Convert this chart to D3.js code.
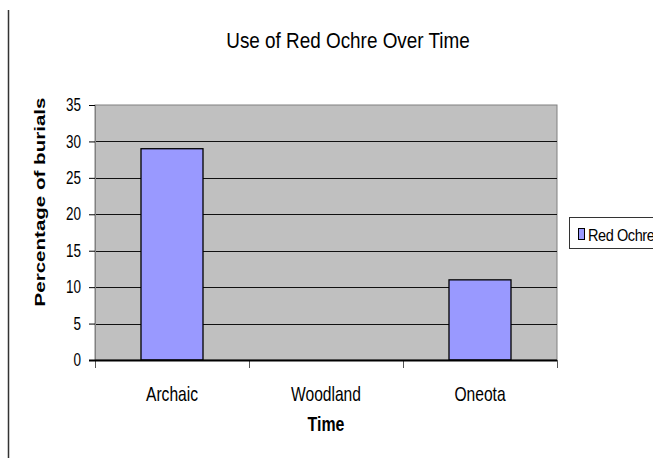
<!DOCTYPE html>
<html><head><meta charset="utf-8">
<script src="https://cdn.jsdelivr.net/npm/d3@7"></script>
<style>body{margin:0;background:#fff}svg{display:block}text{font-family:"Liberation Sans",Arial,sans-serif}</style>
</head><body>
<script>
const categories = ["Archaic", "Woodland", "Oneota"];
const seriesName = "Red Ochre";
const values = [29, 0, 11];
const yTicks = [0, 5, 10, 15, 20, 25, 30, 35];
const title = "Use of Red Ochre Over Time";
const xTitle = "Time";
const yTitle = "Percentage of burials";

const W = 653, H = 458;
const svg = d3.select("body").append("svg").attr("width", W).attr("height", H);
const m = {left: 95, right: 557, top: 105, bottom: 360};

// helper: stretched text
function stext(g, x, y, txt, size, sx, sy, opts = {}) {
  const t = g.append("g").attr("transform", `translate(${x},${y}) scale(${sx},${sy})`)
    .append("text").attr("x", 0).attr("y", 0).attr("font-size", size)
    .attr("text-anchor", opts.anchor || "middle").attr("fill", "#000");
  if (opts.bold) t.attr("font-weight", "bold");
  if (opts.ls) t.attr("letter-spacing", opts.ls);
  t.text(txt);
  return t;
}

svg.append("line").attr("x1", 8.5).attr("x2", 8.5).attr("y1", 10).attr("y2", 458)
  .attr("stroke", "#333").attr("stroke-width", 1.5);

const x = d3.scaleBand().domain(categories).range([m.left, m.right]).paddingInner(0).paddingOuter(0);
const y = d3.scaleLinear().domain([0, 35]).range([m.bottom, m.top]);

svg.append("rect").attr("x", m.left).attr("y", m.top).attr("width", m.right - m.left)
  .attr("height", m.bottom - m.top).attr("fill", "#c0c0c0").attr("stroke", "#808080").attr("stroke-width", 1);

// gridlines
svg.append("g").selectAll("line").data(yTicks.filter(t => t > 0 && t < 35)).join("line")
  .attr("x1", m.left).attr("x2", m.right)
  .attr("y1", d => Math.round(y(d)) + 0.5).attr("y2", d => Math.round(y(d)) + 0.5)
  .attr("stroke", "#111").attr("stroke-width", 1);

// bars
const barW = 62;
svg.append("g").selectAll("rect").data(values).join("rect")
  .attr("x", (d, i) => x(categories[i]) + (x.bandwidth() - barW) / 2)
  .attr("y", d => y(d))
  .attr("width", barW)
  .attr("height", d => y(0) - y(d))
  .attr("fill", "#9999ff").attr("stroke", "#000").attr("stroke-width", 1.3);

// y axis
const yAxis = svg.append("g").attr("transform", `translate(${m.left},0)`)
  .call(d3.axisLeft(y).tickValues(yTicks).tickSize(6).tickPadding(8).tickFormat(d3.format("d")));
yAxis.select(".domain").attr("stroke", "#808080");
yAxis.selectAll(".tick line").attr("stroke", "#000");
yAxis.selectAll(".tick text").attr("font-size", 13.5).attr("fill", "#000")
  .attr("transform", "scale(1,1.3)");

// x axis
const bounds = categories.map(c => x(c)).concat([m.right]);
svg.append("g").selectAll("line").data(bounds).join("line")
  .attr("x1", d => d + 0.5).attr("x2", d => d + 0.5).attr("y1", m.bottom).attr("y2", m.bottom + 8)
  .attr("stroke", "#555").attr("stroke-width", 1);
svg.append("line").attr("x1", m.left - 6).attr("x2", m.right).attr("y1", m.bottom + 0.5).attr("y2", m.bottom + 0.5)
  .attr("stroke", "#000").attr("stroke-width", 2);

const xl = svg.append("g");
categories.forEach(c => stext(xl, x(c) + x.bandwidth() / 2, 401, c, 15.6, 1, 1.28));

stext(svg, (m.left + m.right) / 2, 431, xTitle, 15.9, 1, 1.29, {bold: true});

svg.append("text").attr("transform", "translate(45,202) rotate(-90) scale(1.37,1)").attr("text-anchor", "middle")
  .attr("font-size", 15).attr("font-weight", "bold").text(yTitle);

stext(svg, 348, 48, title, 18.9, 1, 1.18);

// legend
const lg = svg.append("g");
lg.append("rect").attr("x", 569.5).attr("y", 217.5).attr("width", 100).attr("height", 31)
  .attr("fill", "#fff").attr("stroke", "#333").attr("stroke-width", 1);
lg.append("rect").attr("x", 578.5).attr("y", 228.5).attr("width", 6).attr("height", 11)
  .attr("fill", "#9999ff").attr("stroke", "#000").attr("stroke-width", 1);
stext(lg, 588, 241, seriesName, 14.5, 1, 1.15, {anchor: "start", ls: -0.4});
</script>
</body></html>
